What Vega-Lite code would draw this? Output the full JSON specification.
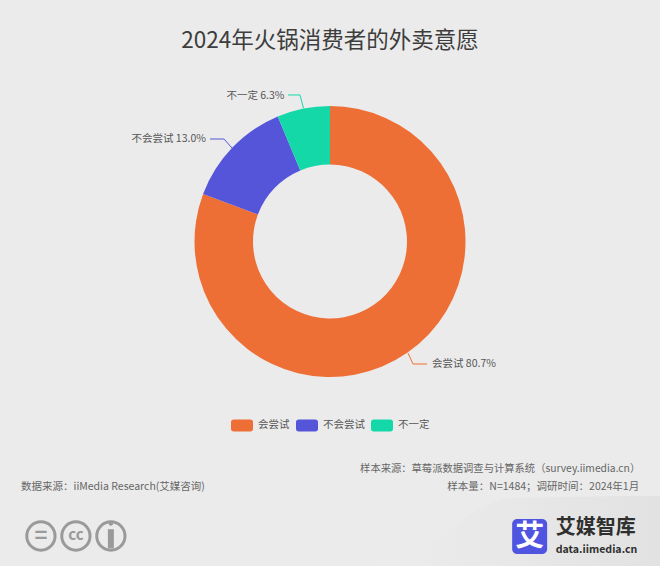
{
"$schema":"https://vega.github.io/schema/vega-lite/v6.json",
"width":660,"height":566,"padding":0,"autosize":{"type":"none"},
"background":"#ebebeb",
"config":{"view":{"stroke":null},"font":"Noto Sans CJK SC","text":{"font":"Noto Sans CJK SC"},"axis":{"disable":true}},
"datasets":{
"slices":[
{"slice":"会尝试","share":80.7,"rank":1,"label":"会尝试 80.7%"},
{"slice":"不会尝试","share":13.0,"rank":2,"label":"不会尝试 13.0%"},
{"slice":"不一定","share":6.3,"rank":3,"label":"不一定 6.3%"}],
"leaders":[
{"slice":"会尝试","step":1,"u":61.82,"v":62.37},
{"slice":"会尝试","step":2,"u":62.58,"v":64.31},
{"slice":"会尝试","step":3,"u":64.7,"v":64.31},
{"slice":"不会尝试","step":1,"u":31.82,"v":24.56},
{"slice":"不会尝试","step":2,"u":33.94,"v":24.56},
{"slice":"不会尝试","step":3,"u":35.15,"v":26.15},
{"slice":"不一定","step":1,"u":43.64,"v":16.78},
{"slice":"不一定","step":2,"u":45.45,"v":16.78},
{"slice":"不一定","step":3,"u":45.98,"v":19.08}],
"swoosh":[
{"u":56.5,"v":100},{"u":57.6,"v":99.5},{"u":66.7,"v":94.9},{"u":71.7,"v":90.6},{"u":74.2,"v":89.1},{"u":76.8,"v":88},{"u":84.8,"v":87.8},{"u":100,"v":87.6}]
},
"layer":[
{"data":{"name":"swoosh"},"mark":{"type":"area","interpolate":"monotone","fill":{"gradient":"linear","x1":0,"y1":0,"x2":1,"y2":0,"stops":[{"offset":0,"color":"#ececec"},{"offset":0.45,"color":"#e8e8e8"},{"offset":1,"color":"#e2e2e2"}]}},
 "encoding":{"x":{"field":"u","type":"quantitative","scale":{"domain":[0,100],"range":[0,660],"nice":false,"zero":false}},"y":{"field":"v","type":"quantitative","scale":{"domain":[0,100],"range":[0,566],"nice":false,"zero":false}},"y2":{"datum":100}}},
{"data":{"name":"slices"},
 "mark":{"type":"arc","innerRadius":77,"outerRadius":135.5},
 "encoding":{"x":{"datum":50},"y":{"datum":42.67},"theta":{"field":"share","type":"quantitative","stack":true,"scale":{"domain":[0,100]}},
  "order":{"field":"rank","type":"quantitative"},
  "color":{"field":"slice","type":"nominal","scale":{"domain":["会尝试","不会尝试","不一定"],"range":["#ee6f35","#5555da","#14d8a8"]},
   "legend":{"title":null,"orient":"none","legendX":231,"legendY":414,"direction":"horizontal","symbolType":"M-0.75,-0.55H0.75Q1,-0.55,1,-0.3V0.3Q1,0.55,0.75,0.55H-0.75Q-1,0.55,-1,0.3V-0.3Q-1,-0.55,-0.75,-0.55Z","symbolSize":484,"symbolStrokeWidth":0,"labelFontSize":10.5,"labelColor":"#555555","labelFont":"Noto Sans CJK SC","labelOffset":5,"columnPadding":6}}}},
{"data":{"name":"leaders"},"mark":{"type":"line","strokeWidth":1,"interpolate":"linear"},
 "encoding":{"x":{"field":"u","type":"quantitative"},"y":{"field":"v","type":"quantitative"},"order":{"field":"step","type":"quantitative"},"detail":{"field":"slice"},"color":{"field":"slice","type":"nominal","legend":null}}},
{"data":{"name":"slices"},"mark":{"type":"text","radius":150,"align":"left","baseline":"middle","dx":16.5,"dy":-0.5,"fontSize":10.5,"fill":"#555555"},
 "encoding":{"x":{"datum":50},"y":{"datum":42.67},"theta":{"field":"share","type":"quantitative","stack":true},"order":{"field":"rank","type":"quantitative"},
  "text":{"condition":{"test":"datum.rank==1","field":"label"},"value":""}}},
{"data":{"name":"slices"},"mark":{"type":"text","radius":150,"align":"right","baseline":"middle","dx":-16,"dy":2,"fontSize":10.5,"fill":"#555555"},
 "encoding":{"x":{"datum":50},"y":{"datum":42.67},"theta":{"field":"share","type":"quantitative","stack":true},"order":{"field":"rank","type":"quantitative"},
  "text":{"condition":{"test":"datum.rank>1","field":"label"},"value":""}}},
{"data":{"values":[{"t":"2024年火锅消费者的外卖意愿"}]},"mark":{"type":"text","fontSize":22.5,"fill":"#3d3d3d","baseline":"middle"},
 "encoding":{"x":{"datum":50},"y":{"datum":7.2},"text":{"field":"t"}}},
{"data":{"values":[{"t":"数据来源：iiMedia Research(艾媒咨询)"}]},"mark":{"type":"text","fontSize":10.5,"fill":"#666666","align":"left","baseline":"middle"},
 "encoding":{"x":{"datum":3.18},"y":{"datum":86.0},"text":{"field":"t"}}},
{"data":{"values":[{"t":"样本来源：草莓派数据调查与计算系统（survey.iimedia.cn）"}]},"mark":{"type":"text","fontSize":10.3,"fill":"#666666","align":"right","baseline":"middle"},
 "encoding":{"x":{"datum":97},"y":{"datum":82.85},"text":{"field":"t"}}},
{"data":{"values":[{"t":"样本量：N=1484；调研时间：2024年1月"}]},"mark":{"type":"text","fontSize":10.5,"fill":"#666666","align":"right","baseline":"middle"},
 "encoding":{"x":{"datum":96.85},"y":{"datum":86.0},"text":{"field":"t"}}},
{"data":{"values":[{"u":6.2},{"u":11.5},{"u":16.8}]},"mark":{"type":"point","shape":"circle","size":800,"stroke":"#9a9a9a","strokeWidth":3,"fill":null,"opacity":1},
 "encoding":{"x":{"field":"u","type":"quantitative"},"y":{"datum":94.7}}},
{"data":{"values":[{"t":"="}]},"mark":{"type":"text","fontSize":22,"fontWeight":"bold","fill":"#9a9a9a","baseline":"middle"},
 "encoding":{"x":{"datum":6.2},"y":{"datum":94.7},"text":{"field":"t"}}},
{"data":{"values":[{"t":"cc"}]},"mark":{"type":"text","fontSize":15,"fontWeight":"bold","fill":"#9a9a9a","baseline":"middle"},
 "encoding":{"x":{"datum":11.5},"y":{"datum":94.5},"text":{"field":"t"}}},
{"data":{"values":[{"n":1}]},"mark":{"type":"point","shape":"circle","size":20,"fill":"#9a9a9a","filled":true,"opacity":1},
 "encoding":{"x":{"datum":16.8},"y":{"datum":92.5}}},
{"data":{"values":[{"n":1}]},"mark":{"type":"rule","strokeWidth":6,"stroke":"#9a9a9a"},
 "encoding":{"x":{"datum":16.8},"y":{"datum":93.5},"y2":{"datum":96.9}}},
{"data":{"values":[{"n":1}]},"mark":{"type":"rect","fill":"#4f55e0","cornerRadius":5},
 "encoding":{"x":{"datum":77.6},"x2":{"datum":82.9},"y":{"datum":91.7},"y2":{"datum":97.9}}},
{"data":{"values":[{"t":"艾"}]},"mark":{"type":"text","fontSize":29,"fontWeight":"bold","fill":"#ffffff","baseline":"middle"},
 "encoding":{"x":{"datum":80.25},"y":{"datum":94.8},"text":{"field":"t"}}},
{"data":{"values":[{"t":"艾媒智库"}]},"mark":{"type":"text","fontSize":20,"fontWeight":"bold","fill":"#2f2f2f","align":"left","baseline":"middle"},
 "encoding":{"x":{"datum":84.2},"y":{"datum":93.2},"text":{"field":"t"}}},
{"data":{"values":[{"t":"data.iimedia.cn"}]},"mark":{"type":"text","fontSize":10.6,"fontWeight":"bold","fill":"#2f2f2f","align":"left","baseline":"middle"},
 "encoding":{"x":{"datum":84.2},"y":{"datum":97.2},"text":{"field":"t"}}}
]
}
